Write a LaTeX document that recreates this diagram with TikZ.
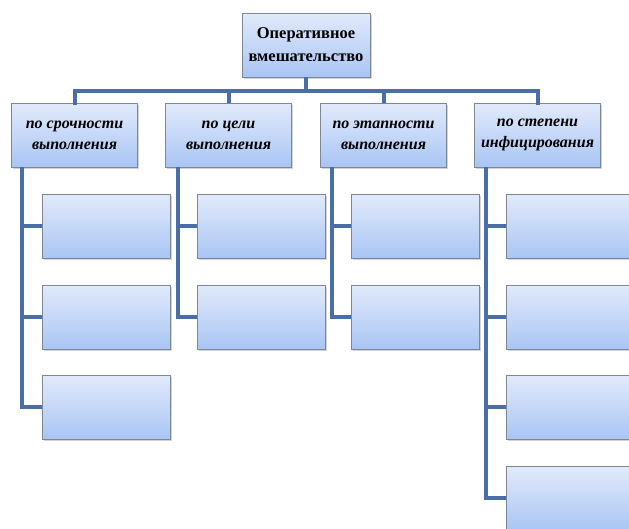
\documentclass[tikz,border=0pt]{standalone}
\usepackage{fontspec}
\setmainfont{Liberation Serif}
\usetikzlibrary{shadows}
\usetikzlibrary{calc}
\definecolor{linkblue}{HTML}{4A6FA8}
\definecolor{boxtop}{HTML}{E2EAFB}
\definecolor{boxbot}{HTML}{A9C5F4}
\definecolor{boxedge}{HTML}{7D8796}
\tikzstyle{every node}=[font=\fontsize{13}{19}\selectfont]
\tikzstyle{box}=[draw=boxedge,line width=0.8pt,top color=boxtop,bottom color=boxbot,
  drop shadow={opacity=0.35,shadow xshift=1.5pt,shadow yshift=-2pt},
  align=center,inner sep=0pt]
\tikzstyle{catbox}=[box,minimum width=126pt,minimum height=64pt,font=\fontsize{16}{21}\selectfont\bfseries\itshape]
\tikzstyle{leafbox}=[box,minimum width=128pt,minimum height=64pt]
\tikzstyle{link}=[draw=linkblue,line width=4pt]

\begin{document}
\begin{tikzpicture}[x=1pt,y=-1pt]
\useasboundingbox (0,0) rectangle (629,528);

% root
\node[box,minimum width=128pt,minimum height=64pt,font=\fontsize{16.5}{23}\selectfont\bfseries] (root) at (306,45)
{Оперативное\\вмешательство};

% categories
\node[catbox] (urg) at (74.5,135) {по срочности\\выполнения};
\node[catbox] (aim) at (228.5,135) {по цели\\выполнения};
\node[catbox] (stg) at (383.5,135) {по этапности\\выполнения};
\node[catbox] (inf) at (537.5,135) {по степени\\инфицирования};

% leaves
\node[leafbox] (urg1) at (106,226) {};
\node[leafbox] (urg2) at (106,317) {};
\node[leafbox] (urg3) at (106,407) {};
\node[leafbox] (aim1) at (261.5,226) {};
\node[leafbox] (aim2) at (261.5,317) {};
\node[leafbox] (stg1) at (415.5,226) {};
\node[leafbox] (stg2) at (415.5,317) {};
\node[leafbox] (inf1) at (570,226) {};
\node[leafbox] (inf2) at (570,317) {};
\node[leafbox] (inf3) at (570,407) {};
\node[leafbox] (inf4) at (570,498) {};

% connectors
\coordinate (bar) at ($(root.south)+(0,14)$);
\draw[link] (root.south)--(bar);
\draw[link,line cap=rect] (urg.north)|-(bar)-|(inf.north);
\draw[link] (aim.north)--(aim.north|-bar);
\draw[link] (stg.north)--(stg.north|-bar);

\coordinate (urgstem) at ($(urg.south west)+(11,0)$);
\coordinate (aimstem) at ($(aim.south west)+(13,0)$);
\coordinate (stgstem) at ($(stg.south west)+(12,0)$);
\coordinate (infstem) at ($(inf.south west)+(12,0)$);

\draw[link] (urgstem)|-(urg3.west);
\draw[link] (urgstem|-urg1.west)--(urg1.west);
\draw[link] (urgstem|-urg2.west)--(urg2.west);

\draw[link] (aimstem)|-(aim2.west);
\draw[link] (aimstem|-aim1.west)--(aim1.west);

\draw[link] (stgstem)|-(stg2.west);
\draw[link] (stgstem|-stg1.west)--(stg1.west);

\draw[link] (infstem)|-(inf4.west);
\draw[link] (infstem|-inf1.west)--(inf1.west);
\draw[link] (infstem|-inf2.west)--(inf2.west);
\draw[link] (infstem|-inf3.west)--(inf3.west);
\end{tikzpicture}
\end{document}
